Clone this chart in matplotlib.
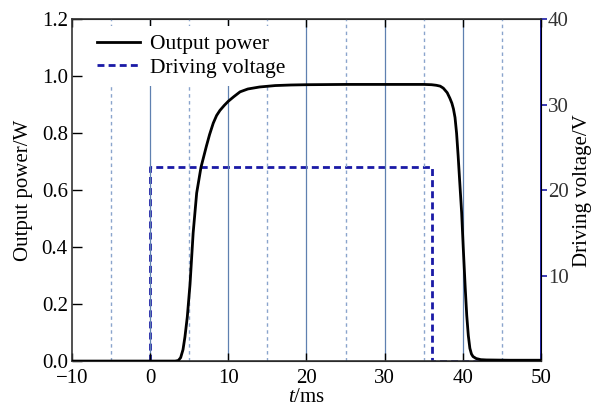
import matplotlib.pyplot as plt
import numpy as np

plt.rcParams['font.family'] = ['Liberation Serif', 'DejaVu Serif']
plt.rcParams['mathtext.fontset'] = 'custom'
plt.rcParams['mathtext.it'] = 'Liberation Serif:italic'
plt.rcParams['mathtext.rm'] = 'Liberation Serif'

# Output power (W)
t_power = [-10, 0, 2, 3.2, 3.6, 3.9, 4.2, 4.45, 4.75, 5.1, 5.5, 5.95, 6.5,
           7.2, 7.6, 8.07, 8.5, 8.93, 9.5, 10, 10.7, 11.5, 12.5, 14, 16, 18,
           20, 25, 30, 35, 36.0, 36.6, 37.1, 37.5, 38.0, 38.35, 38.6, 38.8,
           39.0, 39.2, 39.4, 39.6, 39.85, 40.05, 40.3, 40.5, 40.7, 40.9,
           41.1, 41.3, 41.7, 42.3, 43, 46, 50]
power = [0.0, 0.0, 0.0, 0.0, 0.002, 0.012, 0.04, 0.085, 0.155, 0.27, 0.45,
         0.59, 0.68, 0.755, 0.795, 0.835, 0.862, 0.88, 0.898, 0.912, 0.928,
         0.945, 0.955, 0.962, 0.967, 0.969, 0.97, 0.971, 0.971, 0.971, 0.970,
         0.968, 0.965, 0.958, 0.942, 0.922, 0.905, 0.885, 0.855, 0.8, 0.72,
         0.63, 0.52, 0.40, 0.26, 0.16, 0.09, 0.045, 0.025, 0.016, 0.009,
         0.005, 0.004, 0.003, 0.003]

# Driving voltage (V)
t_volt = [-10, 0, 0, 36, 36, 50]
volt = [0, 0, 22.65, 22.65, 0, 0]

fig = plt.figure(figsize=(5.97, 4.08), dpi=100)
ax = fig.add_axes([0.1206, 0.115, 0.7856, 0.838])
ax2 = ax.twinx()

for x in [0, 10, 20, 30, 40]:
    ax.axvline(x, color='#5f80b0', lw=0.9, zorder=0)
for x in [-5, 5, 15, 25, 35, 45]:
    ax.axvline(x, color='#8aa4cc', lw=1.0, ls=(0, (2.5, 2.5)), zorder=0)

l1, = ax.plot(t_power, power, color='black', lw=2.0, zorder=6,
              label='Output power')
l2, = ax2.plot(t_volt, volt, color='#1a1aa6', lw=2.0, ls=(0, (2.5, 1.5)),
               label='Driving voltage')

ax.set_xlim(-10, 50)
ax.set_ylim(0, 1.2)
ax2.set_ylim(0, 40)
ax.set_xticks(range(-10, 51, 10))
ax.set_xticklabels(['\u221210', '0', '10', '20', '30', '40', '50'])
ax.set_yticks(np.arange(0, 1.21, 0.2))
ax.set_yticklabels([f'{v:.1f}' for v in np.arange(0, 1.21, 0.2)])
ax2.set_yticks([10, 20, 30, 40])

ax.tick_params(axis='x', direction='in', top=True, length=6, width=1,
               labelsize=15, pad=6)
ax.tick_params(axis='y', direction='in', length=7, width=1, labelsize=15,
               pad=3)
ax2.tick_params(axis='y', direction='out', length=4, width=1.2,
                colors='#1a1aa6', labelcolor='#333333', labelsize=15, pad=1)

for s in ['left', 'top', 'bottom']:
    ax.spines[s].set_linewidth(1.2)
    ax.spines[s].set_color('#333333')
ax2.spines['right'].set_color('#1a1aa6')
ax2.spines['right'].set_linewidth(1.4)
ax2.spines['left'].set_visible(False)

ax.set_xlabel('$t$/ms', fontsize=15, labelpad=0)
ax.set_ylabel('Output power/W', fontsize=15, labelpad=6)
ax2.set_ylabel('Driving voltage/V', fontsize=15, labelpad=3)

ax2.set_zorder(ax.get_zorder() - 1)
ax.patch.set_visible(False)
ax2.patch.set_visible(True)

leg = ax.legend([l1, l2], ['Output power', 'Driving voltage'], loc='upper left',
                bbox_to_anchor=(0.035, 0.981), fontsize=15.5, frameon=True,
                handlelength=2.0, borderaxespad=0, borderpad=0.4,
                labelspacing=0.15, handletextpad=0.45, fancybox=False)
leg.get_frame().set_edgecolor('none')
leg.get_frame().set_facecolor('white')
leg.get_frame().set_alpha(1)
leg.set_zorder(5)

fig.savefig('out.png', dpi=100)
